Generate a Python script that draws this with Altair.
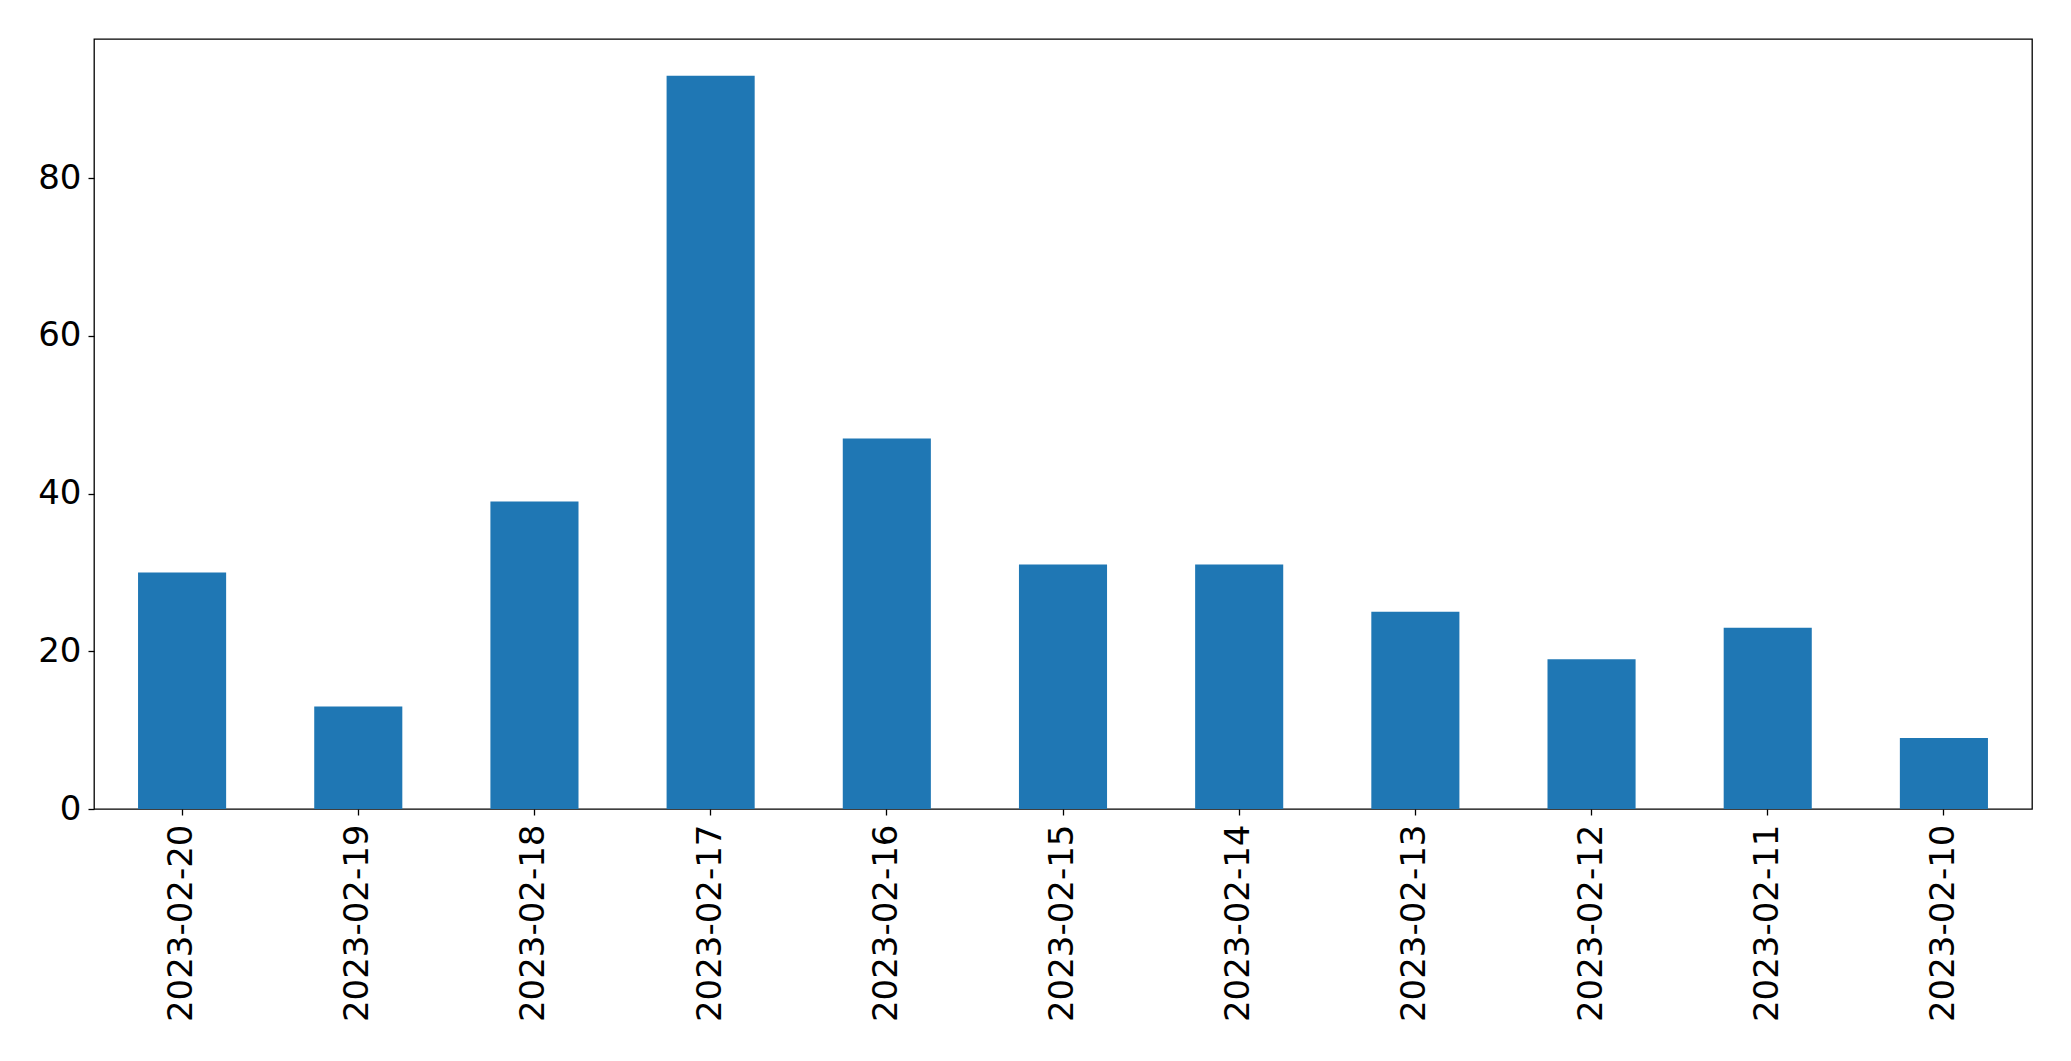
import altair as alt
import pandas as pd

dates = ["2023-02-20", "2023-02-19", "2023-02-18", "2023-02-17", "2023-02-16",
         "2023-02-15", "2023-02-14", "2023-02-13", "2023-02-12", "2023-02-11",
         "2023-02-10"]
counts = [30, 13, 39, 93, 47, 31, 31, 25, 19, 23, 9]
y_ticks = [0, 20, 40, 60, 80]

df = pd.DataFrame({"date": dates, "count": counts})

chart = alt.Chart(df).mark_bar(color="#1f77b4").encode(
    x=alt.X("date:N", sort=dates, title=None,
            scale=alt.Scale(paddingInner=0.5, paddingOuter=0.25),
            axis=alt.Axis(labelAngle=-90, labelFont="DejaVu Sans", labelFontSize=34,
                          labelColor="black", tickColor="black", tickSize=6,
                          tickWidth=1.3, labelPadding=9, domain=False,
                          labelLimit=500, labelOverlap=False)),
    y=alt.Y("count:Q", title=None,
            scale=alt.Scale(domain=[0, 97.65], nice=False, zero=True),
            axis=alt.Axis(values=y_ticks, labelFont="DejaVu Sans", labelFontSize=34,
                          labelColor="black", tickColor="black", tickSize=6,
                          tickWidth=1.3, labelPadding=7, grid=False, domain=False)),
).properties(
    width=1938, height=770,
    autosize=alt.AutoSizeParams(type="none"),
    padding={"left": 86, "top": 31, "right": 20, "bottom": 230},
    background="white",
).configure_view(stroke="black", strokeWidth=1.3)

chart.save("out.html", embed_options={"renderer": "svg", "actions": False})
